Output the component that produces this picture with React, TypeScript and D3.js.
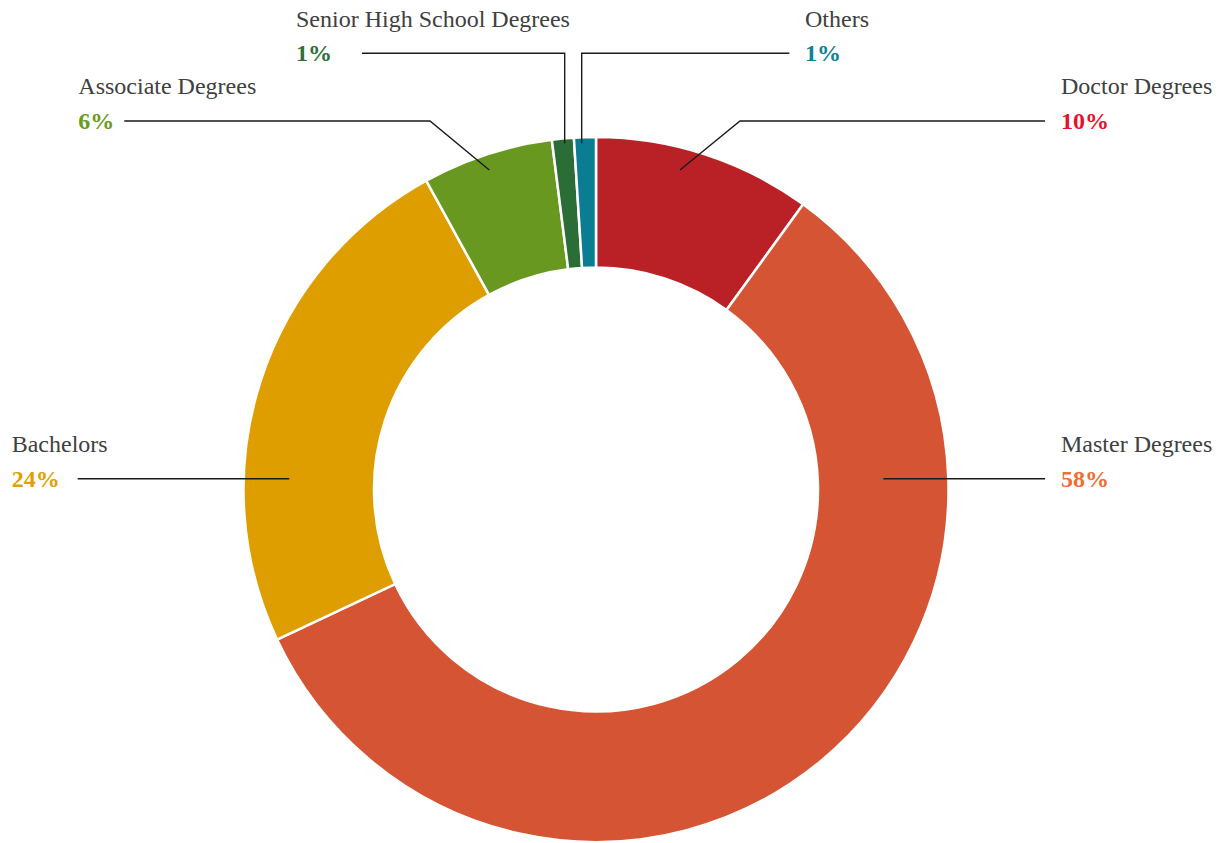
import React from "react";
import * as d3 from "d3";

// ---- data ----
const categories = [
  "Doctor Degrees",
  "Master Degrees",
  "Bachelors",
  "Associate Degrees",
  "Senior High School Degrees",
  "Others",
];
const values = [10, 58, 24, 6, 1, 1];
const sliceColors = ["#BA2126", "#D45434", "#DE9E00", "#68981F", "#2B6D36", "#0A7D93"];
const labelColors = ["#E8112D", "#F26D2F", "#E0A000", "#6A9B22", "#2E7036", "#0F8296"];

// ---- layout (annotation placement) ----
const W = 1223;
const H = 843;
const CX = 596;
const CY = 489.5;
const R_OUT = 352.5;
const R_IN = 222;

// anchor: polar point on the ring (deg clockwise from top, radius)
const labelLayout = [
  { labelX: 1061, lineY: 121, lineEndX: 1045, elbowX: 740, anchorDeg: 14.73, anchorR: 330.4 },
  { labelX: 1061, lineY: 478.7, lineEndX: 1045, elbowX: null, anchorDeg: 87.85, anchorR: 287.5 },
  { labelX: 11.7, lineY: 478.7, lineEndX: 77.7, elbowX: null, anchorDeg: -87.98, anchorR: 306.9 },
  { labelX: 78.3, lineY: 121, lineEndX: 124.3, elbowX: 430, anchorDeg: -18.47, anchorR: 336.8 },
  { labelX: 296, lineY: 53.3, lineEndX: 362, elbowX: 564.7, anchorDeg: -5.17, anchorR: 347.6 },
  { labelX: 805, lineY: 53.3, lineEndX: 789.3, elbowX: 581.7, anchorDeg: -2.37, anchorR: 346.5 },
];

const FONT = "Liberation Serif";

export default function App() {
  const total = d3.sum(values);
  const pie = d3
    .pie<number>()
    .sort(null)
    .value((d) => d)
    .startAngle(0)
    .endAngle(2 * Math.PI);
  const arcs = pie(values);
  const arcGen = d3.arc<d3.PieArcDatum<number>>().innerRadius(R_IN).outerRadius(R_OUT);
  const fmt = d3.format(".0%");

  return (
    <svg
      width={W}
      height={H}
      style={{ position: "absolute", left: 0, top: 0, background: "#fff" }}
    >
      <g transform={`translate(${CX},${CY})`}>
        {arcs.map((a, i) => (
          <path key={i} d={arcGen(a) || ""} fill={sliceColors[i]} stroke="#fff" strokeWidth={2.5} />
        ))}
      </g>
      {categories.map((c, i) => {
        const L = labelLayout[i];
        const rad = (L.anchorDeg * Math.PI) / 180;
        const ax = CX + L.anchorR * Math.sin(rad);
        const ay = CY - L.anchorR * Math.cos(rad);
        const pts: [number, number][] = [[L.lineEndX, L.lineY]];
        if (L.elbowX !== null) pts.push([L.elbowX, L.lineY]);
        pts.push([ax, ay]);
        const line = d3.line()(pts) || "";
        return (
          <g key={c}>
            <path d={line} fill="none" stroke="#1a1a1a" strokeWidth={1.4} />
            <text
              x={L.labelX}
              y={L.lineY - 26.6}
              style={{ fontFamily: FONT, fontSize: "24px" }}
              fill="#404040"
            >
              {c}
            </text>
            <text
              x={L.labelX}
              y={L.lineY + 7.8}
              style={{ fontFamily: FONT, fontSize: "24px", fontWeight: "bold" }}
              fill={labelColors[i]}
            >
              {fmt(values[i] / total)}
            </text>
          </g>
        );
      })}
    </svg>
  );
}
